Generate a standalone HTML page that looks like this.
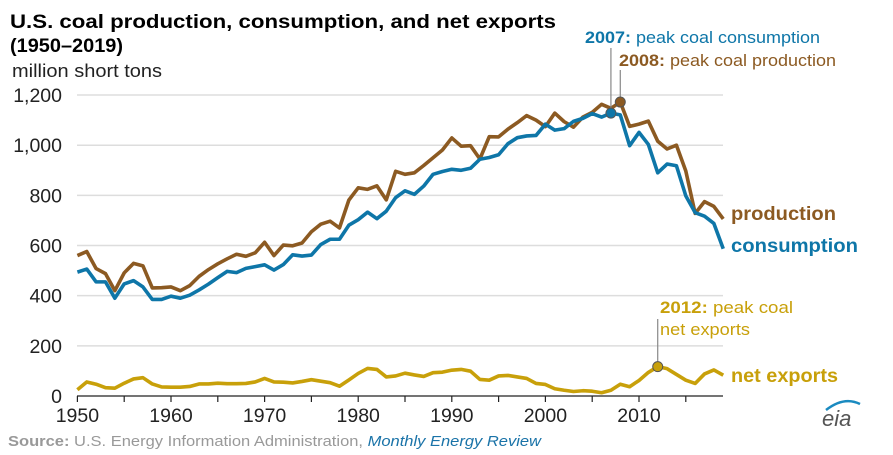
<!DOCTYPE html>
<html><head><meta charset="utf-8"><style>
body{margin:0;background:#fff;font-family:"Liberation Sans",Arial,sans-serif}
svg{display:block}
</style></head><body>
<svg id="chart" width="893" height="455" xmlns="http://www.w3.org/2000/svg" font-family="Liberation Sans, Arial, sans-serif">
<text x="10" y="28" font-size="19" font-weight="bold" fill="#000" textLength="546" lengthAdjust="spacingAndGlyphs">U.S. coal production, consumption, and net exports</text>
<text x="10" y="52" font-size="19" font-weight="bold" fill="#000" textLength="113" lengthAdjust="spacingAndGlyphs">(1950–2019)</text>
<text x="12" y="77" font-size="18" fill="#222" textLength="150" lengthAdjust="spacingAndGlyphs">million short tons</text>
<g id="grid"></g><g id="yt"></g><g id="xt"></g><g id="series"></g>
<text x="8" y="446" font-size="15" fill="#999" textLength="533" lengthAdjust="spacingAndGlyphs"><tspan font-weight="bold">Source:</tspan> U.S. Energy Information Administration, <tspan fill="#1a73a8" font-style="italic">Monthly Energy Review</tspan></text>
<g>
<text x="822" y="426" font-size="22" fill="#555" font-style="italic">eia</text>
<path d="M826 410 q18 -14 34 -6" stroke="#1a8ac0" stroke-width="2.5" fill="none"/>
</g>
<text x="731" y="220" font-size="19.5" font-weight="bold" fill="#8c5a22" textLength="105" lengthAdjust="spacingAndGlyphs">production</text>
<text x="731" y="252" font-size="19.5" font-weight="bold" fill="#0e76a8" textLength="127" lengthAdjust="spacingAndGlyphs">consumption</text>
<text x="731" y="382" font-size="19.5" font-weight="bold" fill="#c8a00a" textLength="107" lengthAdjust="spacingAndGlyphs">net exports</text>
<text x="585" y="43" font-size="17" fill="#0e76a8" textLength="235" lengthAdjust="spacingAndGlyphs"><tspan font-weight="bold">2007:</tspan> peak coal consumption</text>
<text x="619" y="66" font-size="17" fill="#8c5a22" textLength="217" lengthAdjust="spacingAndGlyphs"><tspan font-weight="bold">2008:</tspan> peak coal production</text>
<text x="660" y="313" font-size="17" fill="#c8a00a" textLength="133" lengthAdjust="spacingAndGlyphs"><tspan font-weight="bold">2012:</tspan> peak coal</text>
<text x="660" y="335" font-size="17" fill="#c8a00a" textLength="90" lengthAdjust="spacingAndGlyphs">net exports</text>
</svg>
<script>
const years=[];for(let y=1950;y<=2019;y++)years.push(y);
const production=[560,576,508,488,420,491,529,519,431,432,435,420,440,477,504,527,547,565,557,571,613,560,602,599,610,655,685,697,670,781,830,824,838,782,896,884,890,919,950,981,1029,996,998,945,1034,1033,1064,1090,1118,1100,1074,1128,1094,1072,1112,1131,1163,1147,1172,1075,1084,1096,1016,985,1000,897,728,775,756,706];
const consumption=[494,506,455,455,390,447,460,435,385,385,398,390,402,423,446,472,497,492,509,516,523,502,524,563,558,562,604,625,625,681,703,733,707,737,791,818,804,837,884,895,904,900,908,944,951,962,1006,1030,1037,1039,1084,1060,1066,1095,1107,1126,1112,1128,1121,998,1051,1003,890,925,918,798,731,717,688,587];
const netExports=[25,56,47,33,31,51,68,73,48,36,35,35,38,48,48,51,49,49,50,56,70,56,55,52,58,65,59,53,39,64,90,110,106,76,80,91,84,78,93,95,103,106,99,66,63,80,82,76,70,50,46,29,23,18,21,19,13,23,47,37,62,94,117,109,86,63,50,88,104,83];
const yTicks=[0,200,400,600,800,1000,1200];
const xTicks=[1950,1960,1970,1980,1990,2000,2010];
const NS="http://www.w3.org/2000/svg";
const X=y=>77.4+(y-1950)*9.36;
const Y=v=>396-v*0.2508;
function mk(tag,attrs,parent){const e=document.createElementNS(NS,tag);for(const k in attrs)e.setAttribute(k,attrs[k]);parent.appendChild(e);return e;}
const grid=document.getElementById('grid'),yt=document.getElementById('yt'),xt=document.getElementById('xt'),ser=document.getElementById('series');
yTicks.forEach(v=>{
 if(v>0){const l=mk('line',{x1:77,x2:723,y1:Y(v),y2:Y(v),stroke:'#ddd','stroke-width':1.5},grid);
 
 }
 const t=mk('text',{x:62,y:Y(v)+7,'text-anchor':'end','font-size':19.5,fill:'#222'},yt);t.textContent=v.toLocaleString('en-US');
 
 
});
const ax=mk('line',{x1:77,x2:723,y1:396,y2:396,stroke:'#222','stroke-width':1.3},xt);


for(let y=1950;y<=2015;y+=5){const tk=mk('line',{x1:X(y),x2:X(y),y1:396,y2:402,stroke:'#222','stroke-width':1.2},xt);
 
 }
xTicks.forEach(y=>{const t=mk('text',{x:X(y),y:422,'text-anchor':'middle','font-size':19.5,fill:'#222'},xt);t.textContent=y;
 
 });
function line(data,color,name){const p=mk('polyline',{points:data.map((v,i)=>X(years[i])+','+Y(v)).join(' '),fill:'none',stroke:color,'stroke-width':3.6,'stroke-linejoin':'round'},ser);
 
 }
line(netExports,'#c8a00a','net-exports-line');
line(production,'#8c5a22','production-line');
line(consumption,'#0e76a8','consumption-line');
function marker(data,yr,color,top,name){const i=years.indexOf(yr);
 const l=mk('line',{x1:X(yr),x2:X(yr),y1:top,y2:Y(data[i]),stroke:'#888','stroke-width':1.2},ser);
 
 
 const c=mk('circle',{cx:X(yr),cy:Y(data[i]),r:5,fill:color,stroke:'#555','stroke-width':1},ser);
 
 }
marker(consumption,2007,'#0e76a8',48,'peak-consumption');
marker(production,2008,'#8c5a22',70,'peak-production');
marker(netExports,2012,'#c8a00a',319,'peak-exports');
</script>
</body></html>
